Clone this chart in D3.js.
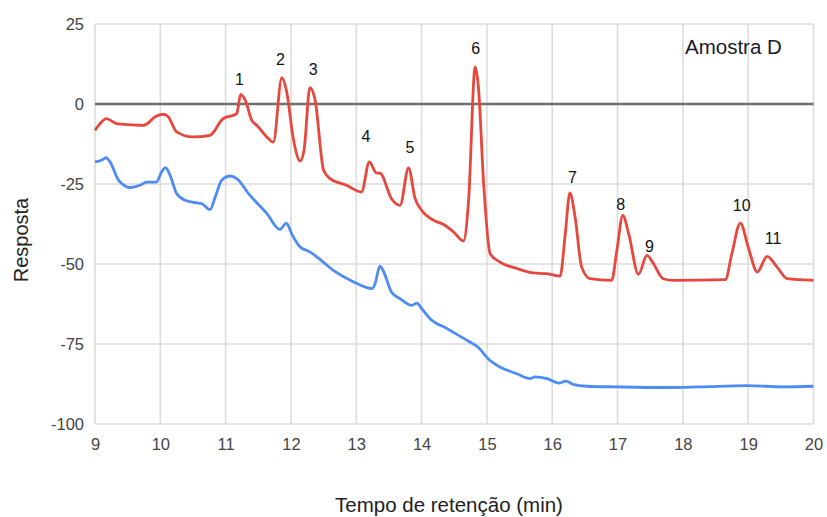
<!DOCTYPE html>
<html><head><meta charset="utf-8">
<script src="https://cdn.jsdelivr.net/npm/d3@7"></script>
<style>body{margin:0;background:#fff;}svg{display:block;font-family:"Liberation Sans",Arial,sans-serif;}</style>
</head><body><svg id="c" width="827" height="517"></svg>
<script>
const xTicks = [9,10,11,12,13,14,15,16,17,18,19,20];
const yTicks = [25,0,-25,-50,-75,-100];

const redTime = [9.00,9.10,9.17,9.33,9.55,9.74,9.81,9.92,10.05,10.12,10.25,10.50,10.76,10.96,11.12,11.17,11.23,11.30,11.40,11.48,11.63,11.73,11.86,11.93,12.04,12.14,12.20,12.29,12.37,12.50,12.60,12.85,13.08,13.20,13.31,13.36,13.54,13.67,13.80,13.90,14.00,14.18,14.33,14.49,14.64,14.72,14.82,14.87,14.95,15.05,15.20,15.46,15.71,15.92,16.12,16.20,16.27,16.35,16.45,16.58,16.91,16.99,17.08,17.17,17.32,17.45,17.55,17.70,17.86,18.65,18.75,18.88,19.00,19.14,19.29,19.44,19.60,20.00];
const redResp = [-8.2,-5.6,-4.6,-6.1,-6.5,-6.7,-6.0,-4.0,-3.2,-4.0,-8.7,-10.3,-9.8,-4.6,-3.5,-3.0,3.0,1.2,-5.1,-6.7,-10.3,-11.9,8.2,4.3,-11.3,-17.8,-14.5,5.1,1.2,-20.7,-23.3,-25.4,-27.5,-18.1,-21.6,-21.6,-29.6,-31.7,-20.0,-29.5,-33.2,-36.3,-37.6,-40.0,-42.8,-30.0,11.6,5.3,-24.9,-46.8,-49.4,-51.4,-52.8,-53.0,-53.8,-40.5,-27.8,-35.3,-50.9,-54.6,-55.1,-45.7,-34.8,-40.5,-53.2,-47.3,-49.9,-54.6,-55.1,-54.9,-46.8,-37.2,-44.7,-52.5,-47.6,-50.9,-54.6,-55.1];

const blueTime = [9.00,9.10,9.17,9.23,9.36,9.54,9.69,9.79,9.94,10.02,10.08,10.15,10.25,10.38,10.56,10.63,10.76,10.84,10.94,11.07,11.17,11.37,11.63,11.83,11.93,12.01,12.14,12.29,12.44,12.65,12.96,13.24,13.29,13.36,13.41,13.54,13.67,13.85,13.93,14.00,14.13,14.39,14.69,14.87,15.02,15.20,15.46,15.66,15.74,15.92,16.11,16.21,16.32,16.53,16.99,17.75,18.26,18.98,19.54,20.00];
const blueResp = [-18.1,-17.6,-16.8,-18.1,-23.8,-26.1,-25.4,-24.4,-24.4,-21.2,-19.9,-22.3,-28.0,-30.1,-30.9,-31.1,-33.0,-29.1,-23.8,-22.5,-23.3,-28.5,-34.2,-39.2,-37.2,-40.5,-44.7,-46.2,-48.5,-52.0,-55.6,-57.7,-56.0,-50.7,-52.0,-58.8,-60.8,-62.9,-62.2,-63.9,-67.1,-70.2,-73.8,-76.1,-79.6,-82.2,-84.3,-85.8,-85.3,-85.8,-87.2,-86.6,-87.6,-88.2,-88.4,-88.6,-88.4,-88.0,-88.4,-88.2];

const peakNames = ["1","2","3","4","5","6","7","8","9","10","11"];
const peakTime  = [11.21,11.84,12.34,13.15,13.82,14.83,16.31,17.05,17.49,18.90,19.38];
const peakLabelResp = [5.8,12.1,9.0,-12.0,-15.4,15.5,-24.8,-33.2,-46.3,-33.5,-43.8];

const sampleName = "Amostra D";
const xTitle = "Tempo de retenção (min)";
const yTitle = "Resposta";

const svg = d3.select("#c");
const L=95, R=813.5, T=24, B=424;
const x = d3.scaleLinear().domain([9,20]).range([L,R]);
const y = d3.scaleLinear().domain([-100,25]).range([B,T]);

// grid
const g = svg.append("g");
g.selectAll("line.vx").data(xTicks).join("line")
  .attr("x1",d=>x(d)).attr("x2",d=>x(d)).attr("y1",T).attr("y2",B)
  .attr("stroke","#dcdcdc").attr("stroke-width",1.6);
g.selectAll("line.hy").data(yTicks.filter(d=>d!==0)).join("line")
  .attr("x1",L).attr("x2",R).attr("y1",d=>y(d)).attr("y2",d=>y(d))
  .attr("stroke","#dcdcdc").attr("stroke-width",1.6);

const fmt = d => String(d);
const xAxis = svg.append("g").attr("transform",`translate(0,${B})`)
  .call(d3.axisBottom(x).tickValues(xTicks).tickSize(0).tickPadding(14).tickFormat(fmt));
xAxis.select(".domain").remove();
xAxis.selectAll("text").attr("font-size",16.5).attr("fill","#444").attr("font-family","Liberation Sans, Arial, sans-serif");

const yAxis = svg.append("g").attr("transform",`translate(${L},0)`)
  .call(d3.axisLeft(y).tickValues(yTicks).tickSize(0).tickPadding(11).tickFormat(fmt));
yAxis.select(".domain").remove();
yAxis.selectAll("text").attr("font-size",16.5).attr("fill","#444").attr("font-family","Liberation Sans, Arial, sans-serif");

// zero line
svg.append("line").attr("x1",L).attr("x2",R).attr("y1",y(0)).attr("y2",y(0))
  .attr("stroke","#6f6f6f").attr("stroke-width",2.4);

const line = d3.line().x(d=>x(d[0])).y(d=>y(d[1])).curve(d3.curveMonotoneX);
const blue = blueTime.map((t,i)=>[t,blueResp[i]]);
const red = redTime.map((t,i)=>[t,redResp[i]]);
svg.append("path").datum(blue).attr("d",line).attr("fill","none")
  .attr("stroke","#4d8cf5").attr("stroke-width",2.8).attr("stroke-linejoin","round");
svg.append("path").datum(red).attr("d",line).attr("fill","none")
  .attr("stroke","#e8473d").attr("stroke-width",2.8).attr("stroke-linejoin","round");

// peak labels
svg.selectAll("text.pk").data(peakNames).join("text")
  .attr("x",(d,i)=>x(peakTime[i])).attr("y",(d,i)=>y(peakLabelResp[i]))
  .attr("text-anchor","middle").attr("font-size",16).attr("fill","#111").text(d=>d);

svg.append("text").attr("x",685).attr("y",54).attr("font-size",20.5).attr("fill","#1a1a2a").text(sampleName);

svg.append("text").attr("x",449).attr("y",512).attr("text-anchor","middle")
  .attr("font-size",20.5).attr("fill","#222").text(xTitle);
svg.append("text").attr("transform",`translate(28,240) rotate(-90)`).attr("text-anchor","middle")
  .attr("font-size",20).attr("fill","#222").text(yTitle);
</script></body></html>
